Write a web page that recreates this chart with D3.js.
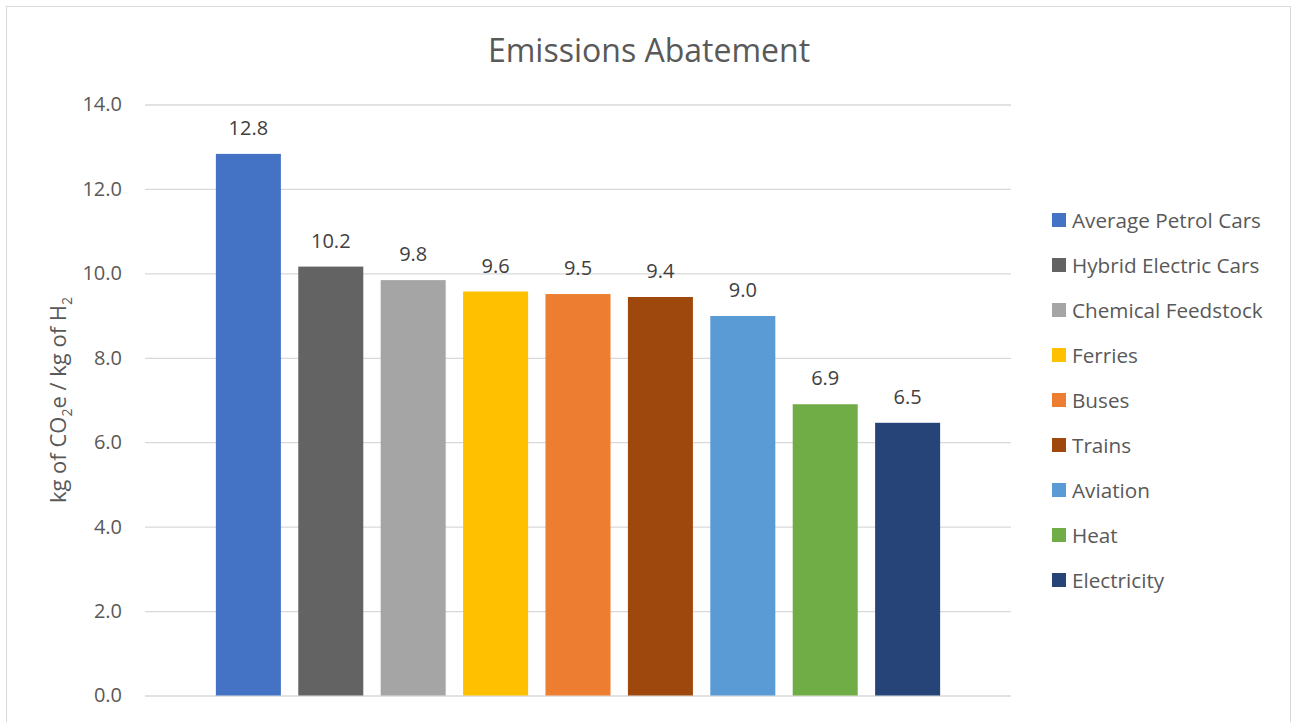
<!DOCTYPE html>
<html>
<head>
<meta charset="utf-8">
<script src="https://cdn.jsdelivr.net/npm/d3@7"></script>
<style>
  html, body { margin: 0; padding: 0; background: #fff; }
  svg { display: block; }
  text { font-family: "Open Sans", "Noto Sans", sans-serif; }
</style>
</head>
<body>
<svg id="chart" width="1292" height="722"></svg>
<script>
// Emissions abatement per kg of hydrogen, by end use
const categories = [
  "Average Petrol Cars", "Hybrid Electric Cars", "Chemical Feedstock",
  "Ferries", "Buses", "Trains", "Aviation", "Heat", "Electricity"
];
const values = [12.83, 10.16, 9.84, 9.57, 9.51, 9.44, 8.99, 6.9, 6.46];
const colors = [
  "#4472c4", "#636363", "#a5a5a5", "#ffc000", "#ed7d31",
  "#9e480e", "#5b9bd5", "#70ad47", "#264478"
];
const yTicks = [0, 2, 4, 6, 8, 10, 12, 14];

const svg = d3.select("#chart");

// outer chart frame
svg.append("rect")
  .attr("x", 6.5).attr("y", 6.5)
  .attr("width", 1284).attr("height", 730)
  .attr("fill", "#fff").attr("stroke", "#d9d9d9").attr("stroke-width", 1);

const plot = { left: 145, right: 1011, top: 104.5, bottom: 695.5 };

const x = d3.scaleBand()
  .domain(categories)
  .range([plot.left, plot.right])
  .paddingInner(0.211)
  .paddingOuter(0.86);

const y = d3.scaleLinear()
  .domain([0, 14])
  .range([plot.bottom, plot.top]);

// horizontal gridlines and value axis labels
const yAxis = d3.axisLeft(y)
  .tickValues(yTicks)
  .tickSize(-(plot.right - plot.left))
  .tickPadding(23)
  .tickFormat(d3.format(".1f"));

const gy = svg.append("g")
  .attr("transform", `translate(${plot.left},0)`)
  .call(yAxis);
gy.select(".domain").remove();
gy.selectAll(".tick line").attr("stroke", "#d9d9d9").attr("stroke-width", 1.3);
gy.selectAll(".tick text")
  .attr("fill", "#595959")
  .style("font-size", "20px");

// bars
svg.append("g").selectAll("rect")
  .data(categories)
  .join("rect")
  .attr("x", d => x(d))
  .attr("width", x.bandwidth())
  .attr("y", (d, i) => y(values[i]))
  .attr("height", (d, i) => y(0) - y(values[i]))
  .attr("fill", (d, i) => colors[i]);

// value labels above bars
svg.append("g").selectAll("text")
  .data(categories)
  .join("text")
  .attr("x", d => x(d) + x.bandwidth() / 2)
  .attr("y", (d, i) => y(values[i]) - 19)
  .attr("text-anchor", "middle")
  .attr("fill", "#404040")
  .style("font-size", "20px")
  .text((d, i) => d3.format(".1f")(values[i]));

// title
svg.append("text")
  .attr("x", 649).attr("y", 62)
  .attr("text-anchor", "middle")
  .attr("fill", "#595959")
  .style("font-size", "32px")
  .text("Emissions Abatement");

// value axis title with subscripts
const yTitle = svg.append("text")
  .attr("transform", `translate(66,${(plot.top + plot.bottom) / 2}) rotate(-90)`)
  .attr("text-anchor", "middle")
  .attr("fill", "#595959")
  .style("font-size", "22px");
yTitle.append("tspan").text("kg of CO");
yTitle.append("tspan").attr("dy", 6).style("font-size", "14px").text("2");
yTitle.append("tspan").attr("dy", -6).text("e / kg of H");
yTitle.append("tspan").attr("dy", 6).style("font-size", "14px").text("2");

// legend
const legend = svg.append("g")
  .selectAll("g")
  .data(categories)
  .join("g")
  .attr("transform", (d, i) => `translate(1052,${220 + i * 45})`);
legend.append("rect")
  .attr("x", 0).attr("y", -7)
  .attr("width", 14).attr("height", 14)
  .attr("fill", (d, i) => colors[i]);
legend.append("text")
  .attr("x", 20).attr("y", 7.5)
  .attr("fill", "#595959")
  .style("font-size", "20.7px")
  .text(d => d);
</script>
</body>
</html>
